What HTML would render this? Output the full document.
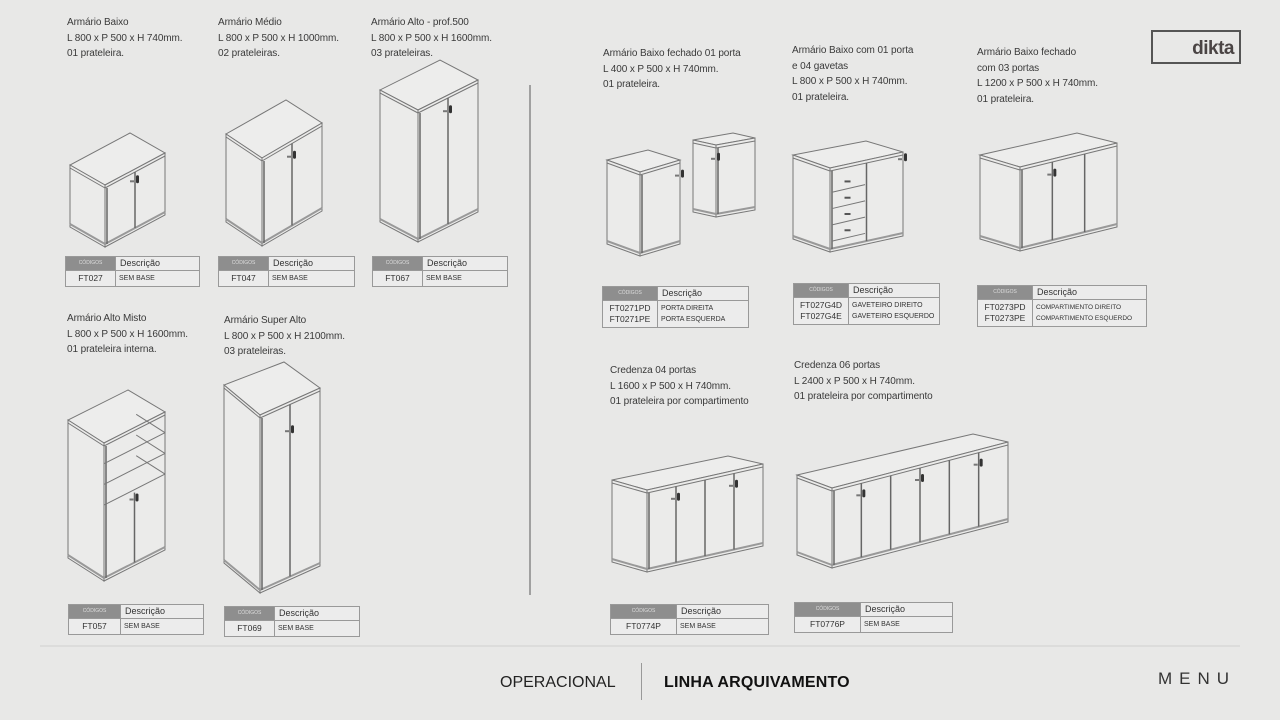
<!DOCTYPE html>
<html><head><meta charset="utf-8">
<style>
body{margin:0;width:1280px;height:720px;background:#e8e8e7;font-family:"Liberation Sans",sans-serif;position:relative;overflow:hidden;color:#333}
.t{position:absolute;font-size:10px;line-height:15.5px;color:#3a3a3a;white-space:nowrap;letter-spacing:-0.1px}
.tb{position:absolute;border:1px solid #999;font-size:7px;color:#333;background:#ececec}
.tb .r{display:flex;border-top:1px solid #999}
.tb .r:first-child{border-top:none}
.tb .c1{border-right:1px solid #999;box-sizing:border-box;text-align:center}
.tb .h .c1{background:#8e8e8e;color:#ddd;font-size:5px;line-height:13px}
.tb .h .c2{font-size:9px;line-height:13px;padding-left:4px}
.tb .b .c1{font-size:8.5px;line-height:11px;padding:2px 0}
.tb .b .c2{font-size:7px;line-height:11px;padding:2px 3px}
svg{position:absolute;left:0;top:0}
</style></head><body>
<svg id="s" width="1280" height="720"></svg>

<div class="t" style="left:67px;top:15px">Armário Baixo<br>L 800 x P 500 x H 740mm.<br>01 prateleira.</div>
<div class="t" style="left:218px;top:15px">Armário Médio<br>L 800 x P 500 x H 1000mm.<br>02 prateleiras.</div>
<div class="t" style="left:371px;top:15px">Armário Alto - prof.500<br>L 800 x P 500 x H 1600mm.<br>03 prateleiras.</div>
<div class="t" style="left:67px;top:311px">Armário Alto Misto<br>L 800 x P 500 x H 1600mm.<br>01 prateleira interna.</div>
<div class="t" style="left:224px;top:313px">Armário Super Alto<br>L 800 x P 500 x H 2100mm.<br>03 prateleiras.</div>
<div class="t" style="left:603px;top:46px">Armário Baixo fechado 01 porta<br>L 400 x P 500 x H 740mm.<br>01 prateleira.</div>
<div class="t" style="left:792px;top:43px">Armário Baixo com 01 porta<br>e 04 gavetas<br>L 800 x P 500 x H 740mm.<br>01 prateleira.</div>
<div class="t" style="left:977px;top:45px">Armário Baixo fechado<br>com 03 portas<br>L 1200 x P 500 x H 740mm.<br>01 prateleira.</div>
<div class="t" style="left:610px;top:363px">Credenza 04 portas<br>L 1600 x P 500 x H 740mm.<br>01 prateleira por compartimento</div>
<div class="t" style="left:794px;top:358px">Credenza 06 portas<br>L 2400 x P 500 x H 740mm.<br>01 prateleira por compartimento</div>

<div class="tb" style="left:65px;top:256px;width:133px"><div class="r h"><div class="c1" style="width:50px">CÓDIGOS</div><div class="c2">Descrição</div></div><div class="r b"><div class="c1" style="width:50px">FT027</div><div class="c2">SEM BASE</div></div></div>
<div class="tb" style="left:218px;top:256px;width:135px"><div class="r h"><div class="c1" style="width:50px">CÓDIGOS</div><div class="c2">Descrição</div></div><div class="r b"><div class="c1" style="width:50px">FT047</div><div class="c2">SEM BASE</div></div></div>
<div class="tb" style="left:372px;top:256px;width:134px"><div class="r h"><div class="c1" style="width:50px">CÓDIGOS</div><div class="c2">Descrição</div></div><div class="r b"><div class="c1" style="width:50px">FT067</div><div class="c2">SEM BASE</div></div></div>
<div class="tb" style="left:68px;top:604px;width:134px"><div class="r h"><div class="c1" style="width:52px">CÓDIGOS</div><div class="c2">Descrição</div></div><div class="r b"><div class="c1" style="width:52px">FT057</div><div class="c2">SEM BASE</div></div></div>
<div class="tb" style="left:224px;top:606px;width:134px"><div class="r h"><div class="c1" style="width:50px">CÓDIGOS</div><div class="c2">Descrição</div></div><div class="r b"><div class="c1" style="width:50px">FT069</div><div class="c2">SEM BASE</div></div></div>
<div class="tb" style="left:602px;top:286px;width:145px"><div class="r h"><div class="c1" style="width:55px">CÓDIGOS</div><div class="c2">Descrição</div></div><div class="r b"><div class="c1" style="width:55px">FT0271PD<br>FT0271PE</div><div class="c2">PORTA DIREITA<br>PORTA ESQUERDA</div></div></div>
<div class="tb" style="left:793px;top:283px;width:145px"><div class="r h"><div class="c1" style="width:55px">CÓDIGOS</div><div class="c2">Descrição</div></div><div class="r b"><div class="c1" style="width:55px">FT027G4D<br>FT027G4E</div><div class="c2">GAVETEIRO DIREITO<br>GAVETEIRO ESQUERDO</div></div></div>
<div class="tb" style="left:977px;top:285px;width:168px"><div class="r h"><div class="c1" style="width:55px">CÓDIGOS</div><div class="c2">Descrição</div></div><div class="r b"><div class="c1" style="width:55px">FT0273PD<br>FT0273PE</div><div class="c2" style="font-size:6.5px">COMPARTIMENTO DIREITO<br>COMPARTIMENTO ESQUERDO</div></div></div>
<div class="tb" style="left:610px;top:604px;width:157px"><div class="r h"><div class="c1" style="width:66px">CÓDIGOS</div><div class="c2">Descrição</div></div><div class="r b"><div class="c1" style="width:66px">FT0774P</div><div class="c2">SEM BASE</div></div></div>
<div class="tb" style="left:794px;top:602px;width:157px"><div class="r h"><div class="c1" style="width:66px">CÓDIGOS</div><div class="c2">Descrição</div></div><div class="r b"><div class="c1" style="width:66px">FT0776P</div><div class="c2">SEM BASE</div></div></div>

<div style="position:absolute;left:1151px;top:30px;width:90px;height:34px;border:2px solid #555;box-sizing:border-box;font-weight:bold;font-size:19px;color:#4a4444;text-align:right;padding-right:5px;line-height:34px;letter-spacing:-0.5px">dikta</div>
<div style="position:absolute;left:500px;top:674px;font-size:16px;color:#222">OPERACIONAL</div>
<div style="position:absolute;left:641px;top:663px;width:1px;height:37px;background:#999"></div>
<div style="position:absolute;left:664px;top:674px;font-size:16px;font-weight:bold;color:#111;letter-spacing:0.2px">LINHA ARQUIVAMENTO</div>
<div style="position:absolute;left:1158px;top:669px;font-size:17px;letter-spacing:7px;color:#333">MENU</div>

<script>
var s='';
function L(a,b,w,c){s+='<line x1="'+a[0]+'" y1="'+a[1]+'" x2="'+b[0]+'" y2="'+b[1]+'" stroke="'+(c||'#777')+'" stroke-width="'+(w||1)+'"/>';}
function P(pts,f){s+='<polygon points="'+pts.map(p=>p.join(',')).join(' ')+'" fill="'+f+'" stroke="#777" stroke-width="1"/>';}
function lerp(a,b,t){return [a[0]+(b[0]-a[0])*t,a[1]+(b[1]-a[1])*t];}
function cab(A,B,C,D,h,doors,opt){
 opt=opt||{};
 var Ab=[A[0],A[1]+h],Bb=[B[0],B[1]+h],Cb=[C[0],C[1]+h];
 P([A,B,C,D],'#ededec');
 P([A,B,Bb,Ab],'#ebebea');
 P([B,C,Cb,Bb],'#ebebea');
 L([A[0],A[1]+3],[B[0],B[1]+3]);L([B[0],B[1]+3],[C[0],C[1]+3]);
 L([A[0],Ab[1]-3],[B[0],Bb[1]-3],2,'#999');L([B[0],Bb[1]-3],[C[0],Cb[1]-3],2,'#999');
 L([B[0]+2,B[1]+3],[B[0]+2,Bb[1]-3],1.5,'#666');
 var top=opt.open?opt.open:0;
 for(var i=1;i<doors;i++){var p=lerp(B,C,i/doors);L([p[0],p[1]+3+top*h],[p[0],p[1]+h-3],1.5,'#666');}
 if(opt.open){
   for(var k=1;k<=3;k++){var f=k/3*opt.open;L([B[0],B[1]+f*h],[C[0],C[1]+f*h]);L([C[0],C[1]+f*h],[C[0]-(B[0]-A[0])*0.8,C[1]+f*h-(B[1]-A[1])*0.8]);}
 }
 if(opt.drawers){for(var k=1;k<=4;k++){var y=B[1]+8+k*(h-14)/4.3;var x2=B[0]+(C[0]-B[0])*0.48;var yy=y-(B[1]-C[1])*0.48;L([B[0]+2,y],[x2,yy]);s+='<rect x="'+(B[0]+(x2-B[0])/2-3)+'" y="'+((y+yy)/2-8)+'" width="6" height="2" fill="#555"/>';}
   var p=lerp(B,C,0.5);L([p[0],p[1]+3],[p[0],p[1]+h-3],1.5,'#666');}
 var hs=opt.handles||(doors>1?[Math.floor(doors/2)]:[doors]);
 hs.forEach(function(i){var p=lerp(B,C,i/doors);var y=p[1]+(opt.hy||0.15)*h;s+='<rect x="'+(p[0]-5)+'" y="'+(y+2)+'" width="4" height="2" fill="#777"/><rect x="'+(p[0]+1)+'" y="'+(y-3)+'" width="3" height="8" rx="1.5" fill="#333"/>';});
}
cab([70,165],[105,185],[165,153],[130,133],62,2);
cab([226,134],[262,158],[322,123],[286,100],88,2);
cab([380,90],[418,110],[478,80],[440,60],132,2,{hy:0.1});
cab([68,420],[104,443],[165,412],[128,390],138,2,{open:0.45,hy:0.5});
cab([224,385],[260,415],[320,388],[284,362],178,2,{hy:0.15});
cab([607,160],[640,172],[680,160],[648,150],84,1,{handles:[1]});
cab([693,140],[716,145],[755,138],[733,133],72,1,{handles:[0]});
cab([793,155],[830,168],[903,152],[866,141],84,1,{drawers:true,handles:[1],hy:0.05});
cab([980,155],[1020,167],[1117,143],[1077,133],84,3,{handles:[1]});
cab([612,480],[647,490],[763,464],[728,456],82,4,{handles:[1,3]});
cab([797,475],[832,488],[1008,442],[973,434],80,6,{handles:[1,3,5]});
L([530,85],[530,595],1.5,'#888');
L([40,646],[1240,646],1,'#cfcfcf');
document.getElementById('s').innerHTML=s;
</script>
</body></html>
